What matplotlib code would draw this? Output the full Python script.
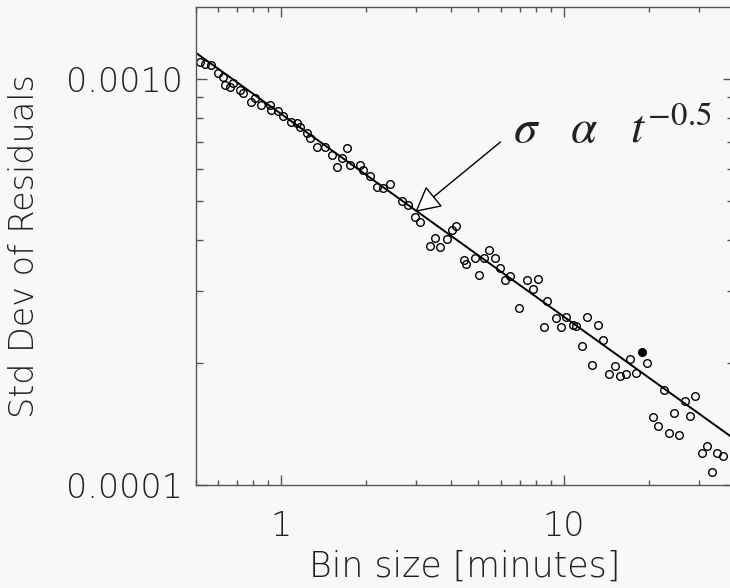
import matplotlib
matplotlib.use("Agg")
import matplotlib.pyplot as plt
from matplotlib.ticker import LogLocator, FixedLocator, FixedFormatter, NullFormatter

# binned residual scatter
bin_size = [0.516, 0.538, 0.568, 0.599, 0.624, 0.633, 0.659, 0.677, 0.716, 0.735,
            0.787, 0.809, 0.854, 0.914, 0.927, 0.978, 1.019, 1.091, 1.137, 1.168,
            1.233, 1.267, 1.339, 1.432, 1.710, 1.513, 1.576, 1.641, 1.757, 1.906,
            1.958, 2.068, 2.185, 2.435, 2.306, 2.679, 2.828, 2.987, 3.111, 4.174,
            4.030, 3.517, 3.357, 3.663, 3.870, 5.435, 5.741, 5.247, 4.432, 4.529,
            4.875, 5.008, 5.944, 6.451, 6.228, 7.434, 8.108, 7.810, 6.943,
            8.754, 8.515, 9.368, 10.16, 9.759, 10.79, 11.09, 12.14, 13.23, 11.65,
            13.79, 17.18, 19.70, 12.64, 15.17, 14.47, 15.84, 16.60, 18.00,
            22.58, 26.86, 29.22, 24.49, 28.05, 20.63, 21.49, 23.51, 25.63,
            32.06, 30.77, 34.88, 36.54, 33.48]
std_dev = [1.103e-3, 1.089e-3, 1.083e-3, 1.033e-3, 1.013e-3, 9.66e-4, 9.57e-4, 9.76e-4, 9.40e-4, 9.25e-4,
           8.79e-4, 8.96e-4, 8.63e-4, 8.63e-4, 8.39e-4, 8.31e-4, 8.08e-4, 7.85e-4, 7.78e-4, 7.63e-4,
           7.35e-4, 7.14e-4, 6.81e-4, 6.81e-4, 6.75e-4, 6.50e-4, 6.08e-4, 6.38e-4, 6.14e-4, 6.14e-4,
           5.97e-4, 5.75e-4, 5.43e-4, 5.51e-4, 5.38e-4, 4.99e-4, 4.89e-4, 4.58e-4, 4.45e-4, 4.35e-4,
           4.25e-4, 4.05e-4, 3.88e-4, 3.86e-4, 4.03e-4, 3.79e-4, 3.63e-4, 3.62e-4, 3.58e-4, 3.50e-4,
           3.62e-4, 3.29e-4, 3.42e-4, 3.27e-4, 3.20e-4, 3.19e-4, 3.22e-4, 3.03e-4, 2.72e-4,
           2.84e-4, 2.45e-4, 2.57e-4, 2.59e-4, 2.45e-4, 2.48e-4, 2.46e-4, 2.59e-4, 2.48e-4, 2.20e-4,
           2.27e-4, 2.04e-4, 2.00e-4, 1.97e-4, 1.96e-4, 1.88e-4, 1.86e-4, 1.88e-4, 1.89e-4,
           1.71e-4, 1.61e-4, 1.66e-4, 1.50e-4, 1.48e-4, 1.47e-4, 1.40e-4, 1.34e-4, 1.33e-4,
           1.25e-4, 1.20e-4, 1.20e-4, 1.18e-4, 1.075e-4]
# one filled point
filled_x = [18.86]
filled_y = [2.12e-4]

# t^-0.5 fit line, end points
fit_x = [0.5, 40]
fit_y = [1.16e-3, 1.30e-4]

x_ticks = [1, 10]
x_labels = ["1", "10"]
y_ticks = [1e-4, 1e-3]
y_labels = ["0.0001", "0.0010"]

bg = "#f8f8f8"
fw = 200
plt.rcParams["mathtext.fontset"] = "stix"

fig = plt.figure(figsize=(7.30, 5.88), dpi=100, facecolor=bg)
ax = fig.add_axes([0.268, 0.1752, 0.7374, 0.8124], facecolor=bg)

ax.plot(fit_x, fit_y, color="black", lw=1.4)
ax.plot(bin_size, std_dev, "o", mfc="none", mec="black", ms=5.5, mew=1.0)
ax.plot(filled_x, filled_y, "o", mfc="black", mec="black", ms=5.5)

ax.set_xscale("log")
ax.set_yscale("log")
ax.set_xlim(0.5, 40)
ax.set_ylim(1e-4, 1.5e-3)

ax.xaxis.set_major_locator(FixedLocator(x_ticks))
ax.xaxis.set_major_formatter(FixedFormatter(x_labels))
ax.xaxis.set_minor_locator(LogLocator(base=10, subs=range(2, 10)))
ax.xaxis.set_minor_formatter(NullFormatter())
ax.yaxis.set_major_locator(FixedLocator(y_ticks))
ax.yaxis.set_major_formatter(FixedFormatter(y_labels))
ax.yaxis.set_minor_locator(LogLocator(base=10, subs=range(2, 10)))
ax.yaxis.set_minor_formatter(NullFormatter())

ax.tick_params(which="both", direction="in", top=True, right=True, color="#555555", width=1)
ax.tick_params(axis="x", which="major", length=7.2, pad=18, labelsize=24)
ax.tick_params(axis="x", which="minor", length=3.6)
ax.tick_params(axis="y", which="major", length=7.9, pad=9, labelsize=24)
ax.tick_params(axis="y", which="minor", length=5)
for lab in ax.get_xticklabels() + ax.get_yticklabels():
    lab.set_fontweight(fw)
    lab.set_color("#222222")
for sp in ax.spines.values():
    sp.set_color("#555555")
    sp.set_linewidth(1)

ax.set_xlabel("Bin size [minutes]", fontsize=25, fontweight=fw, color="#222222", labelpad=5)
ax.set_ylabel("Std Dev of Residuals", fontsize=24, fontweight=fw, color="#222222", labelpad=18)

ax.text(6.596, 6.96e-4, r"$\sigma\ \ \ \alpha\ \ \ t^{-0.5}$", fontsize=34, va="baseline", ha="left",
        color="#222222")
ax.annotate("", xy=(2.987, 4.70e-4), xytext=(5.98, 6.99e-4),
            arrowprops=dict(arrowstyle="-|>,head_length=0.8,head_width=0.42", mutation_scale=20,
                            fc="white", ec="black", lw=1, shrinkA=0, shrinkB=0))

fig.savefig("out.png", dpi=100, facecolor=bg)
